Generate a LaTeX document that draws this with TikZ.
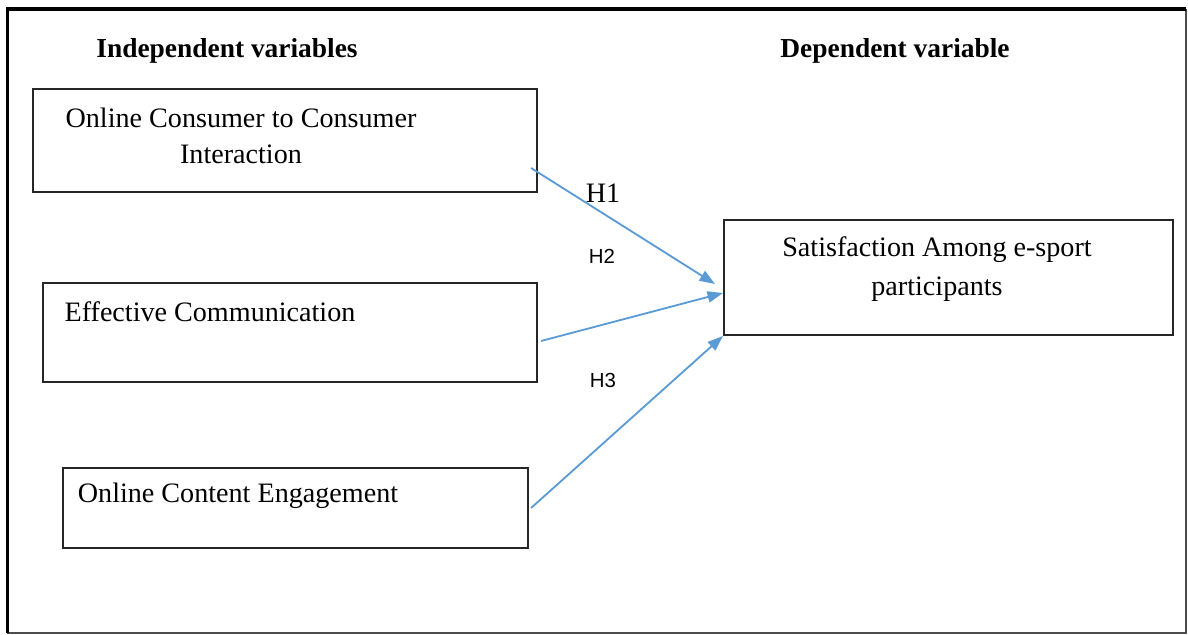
\documentclass[tikz,border=0pt]{standalone}
\usepackage{fontspec}
\setmainfont{Liberation Serif}
\newfontfamily\hsans{Liberation Sans}
\usetikzlibrary{arrows.meta,positioning,calc}
\definecolor{linkblue}{RGB}{91,155,213}

\begin{document}
\begin{tikzpicture}[x=0.025cm,y=-0.025cm,>={Triangle[length=11pt,width=8pt]},
  varbox/.style={draw=black!85,line width=1.4pt,inner sep=0pt},
  vartext/.style={font=\fontsize{20}{26}\selectfont,align=center,inner sep=0pt},
  head/.style={font=\fontsize{19.5}{24}\selectfont\bfseries,inner sep=0pt},
  hyp/.style={font=\hsans\fontsize{14.5}{17}\selectfont,inner sep=0pt},
  link/.style={->,linkblue,line width=1.3pt}]
\useasboundingbox (0,0) rectangle (1188,635);
\draw[black!70,line width=0.8pt] (7,633)--(1186,633)--(1186,9);
\draw[line width=2.8pt] (1186,9)--(7.5,9)--(7.5,633);
\node[head] (indep) at (227,51) {Independent variables};
\node[head] (dep) at (895,51) {Dependent variable};
\node[varbox,minimum width=12.6cm,minimum height=2.575cm] (c2c) at (285,140.5) {};
\node[varbox,minimum width=12.35cm,minimum height=2.475cm] (eff) at (290,332.5) {};
\node[varbox,minimum width=11.625cm,minimum height=2cm] (oce) at (295.5,508) {};
\node[varbox,minimum width=11.225cm,minimum height=2.875cm] (sat) at (948.5,277.5) {};
\node[vartext] (c2ct) at (241,136) {Online Consumer to Consumer\\Interaction};
\node[vartext] (efft) at (210,312) {Effective Communication};
\node[vartext] (ocet) at (238,496) {Online Content Engagement};
\node[vartext,font=\fontsize{20}{28}\selectfont] (satt) at (937,269) {Satisfaction Among e-sport\\participants};
\draw[link] ($(c2c.east)+(-7,27.5)$) -- ($(sat.west)+(-8,6.5)$);
\draw[link] ($(eff.east)+(3,8.5)$) -- ($(sat.west)+(0,15.5)$);
\draw[link] ($(oce.east)+(2,0)$) -- (sat.south west);
\node[vartext] (h1) at (603,193) {H1};
\node[hyp] (h2) at (602,256) {H2};
\node[hyp] (h3) at (603,380) {H3};
\end{tikzpicture}
\end{document}
